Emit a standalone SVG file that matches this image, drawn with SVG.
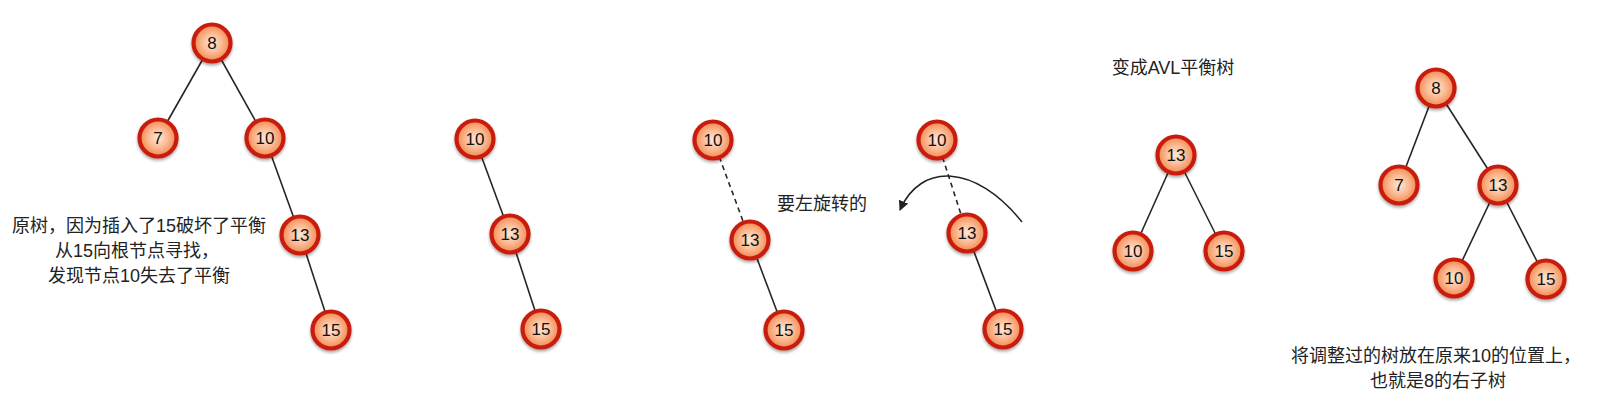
<svg xmlns="http://www.w3.org/2000/svg" width="1618" height="416" viewBox="0 0 1618 416">
<style>
.n circle{fill:url(#g);stroke:#c81c0f;stroke-width:4.2;filter:url(#sh)}
.n text{font-family:"Liberation Sans",Arial,sans-serif;font-size:17px;fill:#111;text-anchor:middle}
.e line{stroke:#262626;stroke-width:1.6}
.e .d{stroke-dasharray:5,4}
.t{font-family:"Liberation Sans","Noto Sans CJK SC",sans-serif;font-size:18px;fill:#222;text-anchor:middle}
</style>
<defs>
<radialGradient id="g" cx="50%" cy="50%" r="50%">
<stop offset="0" stop-color="#fee8d6"/>
<stop offset="0.55" stop-color="#fbb890"/>
<stop offset="1" stop-color="#f38650"/>
</radialGradient>
<filter id="sh" x="-30%" y="-30%" width="160%" height="170%">
<feDropShadow dx="0" dy="2" stdDeviation="1.5" flood-color="#000" flood-opacity="0.35"/>
</filter>
<marker id="ah" viewBox="0 0 10 10" refX="9" refY="5" markerWidth="10" markerHeight="10" markerUnits="userSpaceOnUse" orient="auto">
<path d="M0,0 L10,5 L0,10 z" fill="#222"/>
</marker>
</defs>
<rect width="1618" height="416" fill="#fff"/>
<g id="connectors" class="e">
<line x1="212" y1="43" x2="158" y2="138"/>
<line x1="212" y1="43" x2="265" y2="138"/>
<line x1="265" y1="138" x2="300" y2="235"/>
<line x1="300" y1="235" x2="331" y2="330"/>
<line x1="475" y1="139" x2="510" y2="234"/>
<line x1="510" y1="234" x2="541" y2="329"/>
<line class="d" x1="713" y1="140" x2="750" y2="240"/>
<line x1="750" y1="240" x2="784" y2="330"/>
<line class="d" x1="937" y1="140" x2="967" y2="233"/>
<line x1="967" y1="233" x2="1003" y2="329"/>
<line x1="1176" y1="155" x2="1133" y2="251"/>
<line x1="1176" y1="155" x2="1224" y2="251"/>
<line x1="1436" y1="88" x2="1399" y2="185"/>
<line x1="1436" y1="88" x2="1498" y2="185"/>
<line x1="1498" y1="185" x2="1454" y2="278"/>
<line x1="1498" y1="185" x2="1546" y2="279"/>
<path d="M1022,222 C975,163 920,163 900,210" fill="none" stroke="#222" stroke-width="1.5" marker-end="url(#ah)"/>
</g>
<g id="t1n8" class="n"><circle cx="212" cy="43" r="18.5"/><text x="212" y="49">8</text></g>
<g id="t1n7" class="n"><circle cx="158" cy="138" r="18.5"/><text x="158" y="144">7</text></g>
<g id="t1n10" class="n"><circle cx="265" cy="138" r="18.5"/><text x="265" y="144">10</text></g>
<g id="t1n13" class="n"><circle cx="300" cy="235" r="18.5"/><text x="300" y="241">13</text></g>
<g id="t1n15" class="n"><circle cx="331" cy="330" r="18.5"/><text x="331" y="336">15</text></g>
<g id="t2n10" class="n"><circle cx="475" cy="139" r="18.5"/><text x="475" y="145">10</text></g>
<g id="t2n13" class="n"><circle cx="510" cy="234" r="18.5"/><text x="510" y="240">13</text></g>
<g id="t2n15" class="n"><circle cx="541" cy="329" r="18.5"/><text x="541" y="335">15</text></g>
<g id="t3n10" class="n"><circle cx="713" cy="140" r="18.5"/><text x="713" y="146">10</text></g>
<g id="t3n13" class="n"><circle cx="750" cy="240" r="18.5"/><text x="750" y="246">13</text></g>
<g id="t3n15" class="n"><circle cx="784" cy="330" r="18.5"/><text x="784" y="336">15</text></g>
<g id="t4n10" class="n"><circle cx="937" cy="140" r="18.5"/><text x="937" y="146">10</text></g>
<g id="t4n13" class="n"><circle cx="967" cy="233" r="18.5"/><text x="967" y="239">13</text></g>
<g id="t4n15" class="n"><circle cx="1003" cy="329" r="18.5"/><text x="1003" y="335">15</text></g>
<g id="t5n13" class="n"><circle cx="1176" cy="155" r="18.5"/><text x="1176" y="161">13</text></g>
<g id="t5n10" class="n"><circle cx="1133" cy="251" r="18.5"/><text x="1133" y="257">10</text></g>
<g id="t5n15" class="n"><circle cx="1224" cy="251" r="18.5"/><text x="1224" y="257">15</text></g>
<g id="t6n8" class="n"><circle cx="1436" cy="88" r="18.5"/><text x="1436" y="94">8</text></g>
<g id="t6n7" class="n"><circle cx="1399" cy="185" r="18.5"/><text x="1399" y="191">7</text></g>
<g id="t6n13" class="n"><circle cx="1498" cy="185" r="18.5"/><text x="1498" y="191">13</text></g>
<g id="t6n10" class="n"><circle cx="1454" cy="278" r="18.5"/><text x="1454" y="284">10</text></g>
<g id="t6n15" class="n"><circle cx="1546" cy="279" r="18.5"/><text x="1546" y="285">15</text></g>
<g id="labels">
<text class="t" x="139" y="232">原树，因为插入了15破坏了平衡</text>
<text class="t" x="137" y="257">从15向根节点寻找，</text>
<text class="t" x="139" y="282">发现节点10失去了平衡</text>
<text class="t" x="822" y="210">要左旋转的</text>
<text class="t" x="1173" y="74">变成AVL平衡树</text>
<text class="t" x="1436" y="362">将调整过的树放在原来10的位置上，</text>
<text class="t" x="1438" y="387">也就是8的右子树</text>
</g>
</svg>
